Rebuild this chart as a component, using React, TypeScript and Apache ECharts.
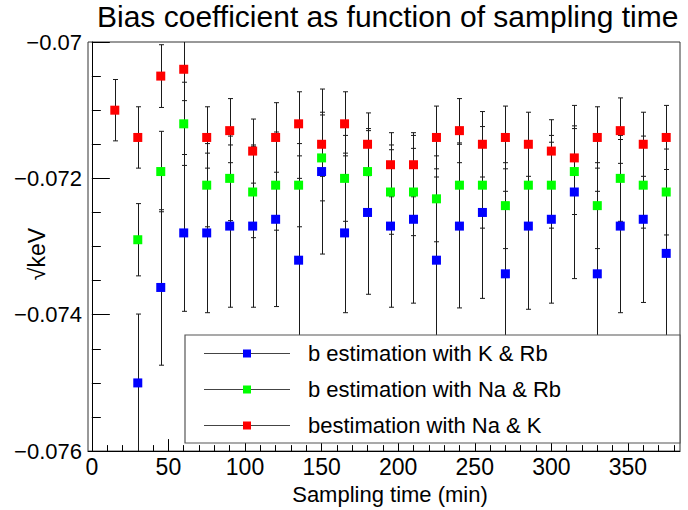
import React, { useEffect, useRef } from 'react';
import * as echarts from 'echarts';

// Sampling times (min)
const times = [15, 30, 45, 60, 75, 90, 105, 120, 135, 150, 165, 180, 195, 210, 225, 240, 255, 270, 285, 300, 315, 330, 345, 360, 375];

// b estimation with K & Rb (blue)
const blueValues = [null, -0.0750, -0.0736, -0.0728, -0.0728, -0.0727, -0.0727, -0.0726, -0.0732, -0.0719, -0.0728, -0.0725, -0.0727, -0.0726, -0.0732, -0.0727, -0.0725, -0.0734, -0.0727, -0.0726, -0.0722, -0.0734, -0.0727, -0.0726, -0.0731];
const blueErrors = [null, 0.00101, 0.00114, 0.00115, 0.00117, 0.00119, 0.00119, 0.00128, 0.00120, 0.00121, 0.00117, 0.00120, 0.00119, 0.00123, 0.00122, 0.00120, 0.00126, 0.00121, 0.00122, 0.00123, 0.00127, 0.00121, 0.00127, 0.00122, 0.00123];

// b estimation with Na & Rb (green)
const greenValues = [null, -0.0729, -0.0719, -0.0712, -0.0721, -0.0720, -0.0722, -0.0721, -0.0721, -0.0717, -0.0720, -0.0719, -0.0722, -0.0722, -0.0723, -0.0721, -0.0721, -0.0724, -0.0721, -0.0721, -0.0719, -0.0724, -0.0720, -0.0721, -0.0722];
const greenErrors = [null, 0.00053, 0.00059, 0.00061, 0.00061, 0.00062, 0.00067, 0.00066, 0.00061, 0.00063, 0.00063, 0.00063, 0.00062, 0.00064, 0.00063, 0.00062, 0.00063, 0.00063, 0.00063, 0.00063, 0.00063, 0.00063, 0.00063, 0.00063, 0.00063];

// bestimation with Na & K (red)
const redValues = [-0.0710, -0.0714, -0.0705, -0.0704, -0.0714, -0.0713, -0.0716, -0.0714, -0.0712, -0.0715, -0.0712, -0.0715, -0.0718, -0.0718, -0.0714, -0.0713, -0.0715, -0.0714, -0.0715, -0.0716, -0.0717, -0.0714, -0.0713, -0.0715, -0.0714];
const redErrors = [0.00045, 0.00045, 0.00046, 0.00046, 0.00045, 0.00047, 0.00047, 0.00051, 0.00047, 0.00047, 0.00047, 0.00046, 0.00047, 0.00047, 0.00046, 0.00047, 0.00048, 0.00046, 0.00047, 0.00046, 0.00047, 0.00045, 0.00048, 0.00047, 0.00047];

const seriesNames = ['b estimation with K & Rb', 'b estimation with Na & Rb', 'bestimation with Na & K'];
const seriesColors = ['#0000ff', '#00ff00', '#ff0000'];

const xMajorTicks = [0, 50, 100, 150, 200, 250, 300, 350];
const xMinorTicks = [10, 20, 30, 40, 60, 70, 80, 90, 110, 120, 130, 140, 160, 170, 180, 190, 210, 220, 230, 240, 260, 270, 280, 290, 310, 320, 330, 340, 360, 370, 380];

const titleText = 'Bias coefficient as function of sampling time';
const xTitle = 'Sampling time (min)';
const yTitle = '√keV';

const FONT = 'Liberation Sans';

export default function App() {
  const ref = useRef<HTMLDivElement>(null);
  useEffect(() => {
    if (!ref.current) return;
    const chart = echarts.init(ref.current, undefined, { renderer: 'svg' });

    const groups = [
      { values: blueValues, errors: blueErrors },
      { values: greenValues, errors: greenErrors },
      { values: redValues, errors: redErrors },
    ];

    const series: any[] = [];
    groups.forEach((g, k) => {
      const pts: number[][] = [];
      const errs: number[][] = [];
      times.forEach((t, i) => {
        const v = g.values[i];
        const e = g.errors[i];
        if (v == null || e == null) return;
        pts.push([t, v]);
        errs.push([t, v - e, v + e]);
      });
      series.push({
        type: 'custom',
        name: seriesNames[k] + ' errors',
        xAxisIndex: 0,
        yAxisIndex: 0,
        clip: true,
        z: 2,
        encode: { x: 0, y: [1, 2] },
        data: errs,
        renderItem: (params: any, api: any) => {
          const x = api.value(0);
          const lo = api.value(1);
          const hi = api.value(2);
          const top = api.coord([x, hi]);
          const bot = api.coord([x, lo]);
          const cx = Math.round(top[0]) + 0.5;
          const style = { stroke: '#1a1a1a', lineWidth: 1 };
          return {
            type: 'group',
            children: [
              { type: 'line', shape: { x1: cx, y1: top[1], x2: cx, y2: bot[1] }, style },
              { type: 'line', shape: { x1: cx - 2.5, y1: top[1], x2: cx + 2.5, y2: top[1] }, style },
              { type: 'line', shape: { x1: cx - 2.5, y1: bot[1], x2: cx + 2.5, y2: bot[1] }, style },
            ],
          };
        },
      });
      series.push({
        type: 'scatter',
        name: seriesNames[k],
        xAxisIndex: 0,
        yAxisIndex: 0,
        symbol: 'rect',
        symbolSize: 9,
        z: 5,
        itemStyle: { color: seriesColors[k], opacity: 1 },
        data: pts,
      });
    });

    // Legend box (ROOT style) built from series names/colours
    const legendX = 185, legendY = 335, legendW = 495, legendH = 108;
    const rowYs = [353.5, 389.5, 425.5];
    const legendChildren: any[] = [
      {
        type: 'rect',
        shape: { x: legendX, y: legendY, width: legendW, height: legendH },
        style: { fill: '#ffffff', stroke: '#555555', lineWidth: 1.2 },
        z: 100,
      },
    ];
    seriesNames.forEach((name, k) => {
      const y = rowYs[k];
      legendChildren.push({
        type: 'line',
        shape: { x1: 204, y1: y, x2: 290, y2: y },
        style: { stroke: '#444444', lineWidth: 1.2 },
        z: 101,
      });
      legendChildren.push({
        type: 'rect',
        shape: { x: 243, y: y - 4, width: 8, height: 8 },
        style: { fill: seriesColors[k] },
        z: 102,
      });
      legendChildren.push({
        type: 'text',
        x: 308,
        y: y,
        style: {
          text: name,
          fill: '#000',
          font: `22px "${FONT}"`,
          verticalAlign: 'middle',
          align: 'left',
        },
        z: 102,
      });
    });

    const yFmt = (v: number) => {
      const s = Math.abs(v).toFixed(3).replace(/0+$/, '').replace(/\.$/, '');
      return (v < 0 ? '\u2212' : '') + s;
    };

    chart.setOption({
      animation: false,
      backgroundColor: '#ffffff',
      title: {
        text: titleText,
        left: 97,
        top: 1,
        padding: 0,
        textStyle: { fontFamily: FONT, fontSize: 30, fontWeight: 'normal', color: '#000' },
      },
      grid: {
        left: 88,
        top: 42,
        width: 592,
        height: 411,
        show: true,
        borderColor: '#333',
        borderWidth: 1,
        backgroundColor: 'transparent',
      },
      xAxis: [
        {
          type: 'value',
          min: -2.5,
          max: 384,
          position: 'bottom',
          name: xTitle,
          nameLocation: 'middle',
          nameGap: 23,
          nameTextStyle: { fontFamily: FONT, fontSize: 22, color: '#000', padding: [0, 0, 0, 12] },
          axisLine: { show: true, lineStyle: { color: '#000', width: 1 } },
          axisTick: { show: true, inside: true, length: 12, customValues: xMajorTicks, lineStyle: { color: '#000' } },
          axisLabel: { show: true, customValues: xMajorTicks, margin: 4, fontFamily: FONT, fontSize: 23, color: '#000' },
          splitLine: { show: false },
        },
        {
          type: 'value',
          min: -2.5,
          max: 384,
          position: 'bottom',
          axisLine: { show: false },
          axisTick: { show: true, inside: true, length: 6, customValues: xMinorTicks, lineStyle: { color: '#000' } },
          axisLabel: { show: false },
          splitLine: { show: false },
        },
      ],
      yAxis: {
        type: 'value',
        min: -0.076,
        max: -0.07,
        interval: 0.002,
        axisLine: { show: true, lineStyle: { color: '#000', width: 1 } },
        axisTick: { show: true, inside: true, length: 18, lineStyle: { color: '#000' } },
        minorTick: { show: true, splitNumber: 4, length: 9, lineStyle: { color: '#000' } },
        axisLabel: { margin: 6, fontFamily: FONT, fontSize: 22, color: '#000', formatter: yFmt },
        splitLine: { show: false },
        minorSplitLine: { show: false },
      },
      graphic: [
        {
          type: 'text',
          x: 37,
          y: 254,
          rotation: Math.PI / 2,
          style: {
            text: yTitle,
            fill: '#000',
            font: `23px "${FONT}"`,
            align: 'center',
            verticalAlign: 'middle',
          },
          z: 100,
        },
        { type: 'group', children: legendChildren, z: 100 },
      ],
      series,
    });

    return () => chart.dispose();
  }, []);

  return (
    <div
      ref={ref}
      style={{ position: 'fixed', left: 0, top: 0, width: 688, height: 510, background: '#fff' }}
    />
  );
}
